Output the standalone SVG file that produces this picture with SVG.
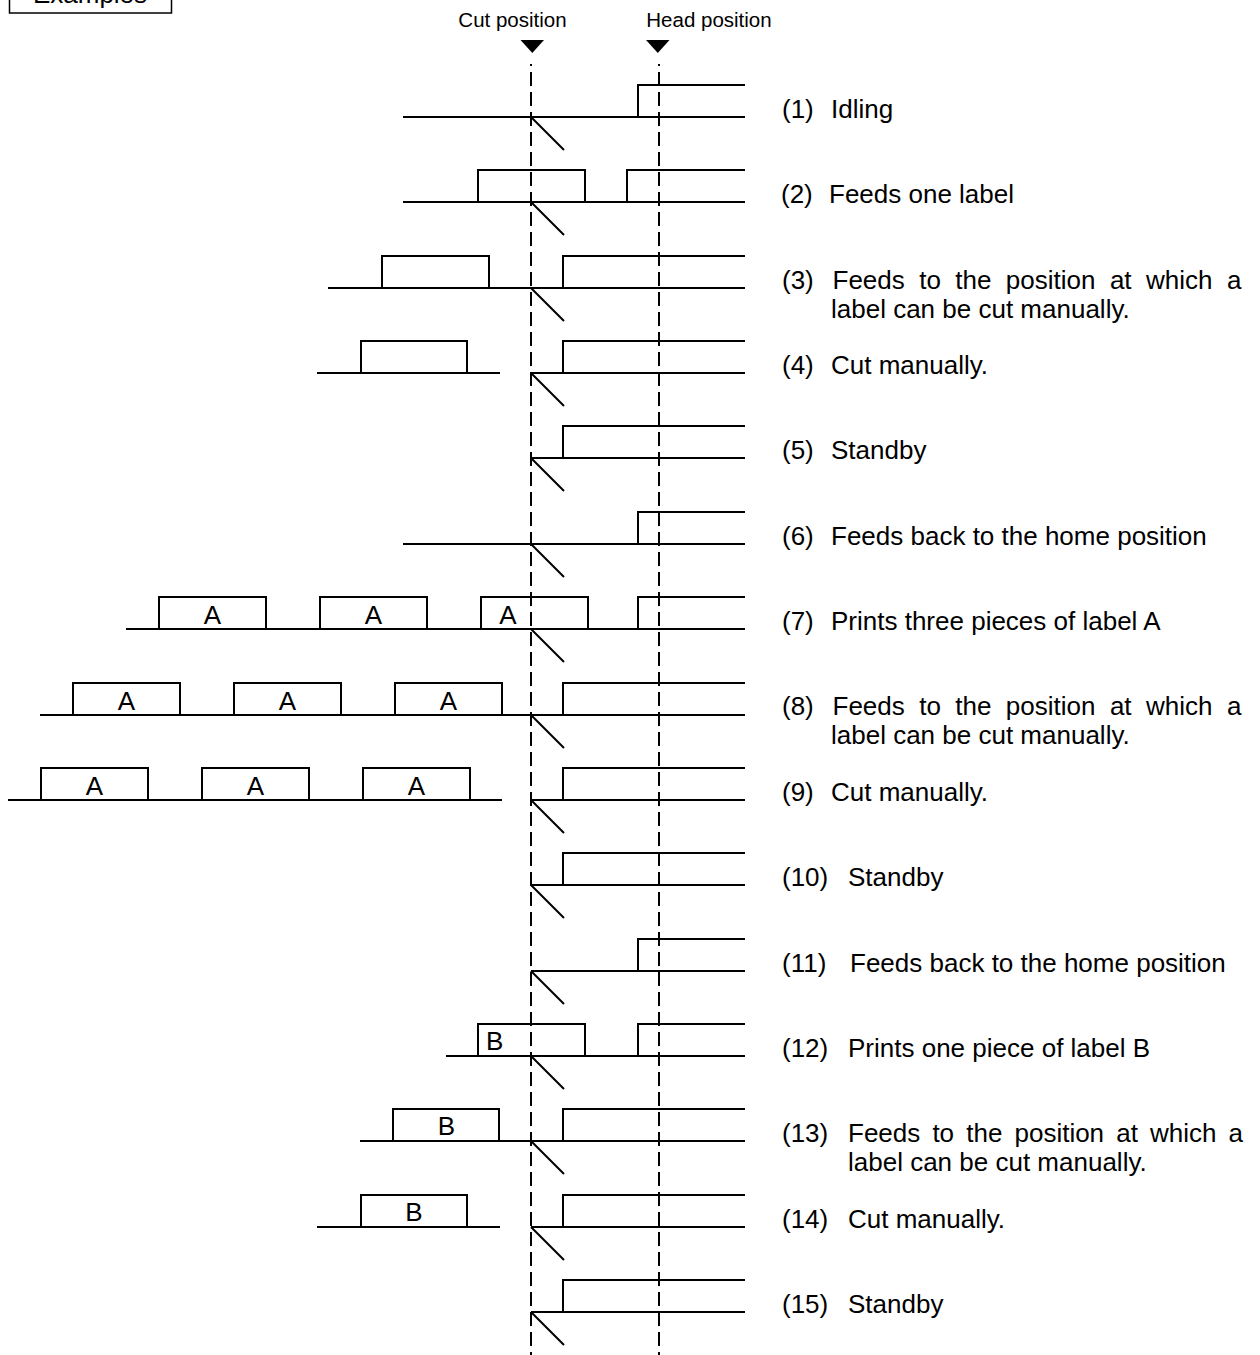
<svg xmlns="http://www.w3.org/2000/svg" width="1260" height="1355" viewBox="0 0 1260 1355">
<style>
.w{fill:none;stroke:#000;stroke-width:2}
.d{fill:none;stroke:#000;stroke-width:2;stroke-dasharray:14 6;stroke-dashoffset:12}
.t{font-family:"Liberation Sans",Arial,sans-serif;font-size:26px;fill:#000}
.h{font-family:"Liberation Sans",Arial,sans-serif;font-size:20.5px;fill:#000}
.c{text-anchor:middle}
.j{word-spacing:7.2px}
</style>
<g id="examples">
<rect x="9.5" y="-20" width="162" height="33" fill="#fff" stroke="#000" stroke-width="1.5"/>
<text class="t c" x="90" y="3">Examples</text>
</g>
<g id="markers">
<text class="h c" x="512.5" y="27">Cut position</text>
<text class="h c" x="709" y="27">Head position</text>
<polygon points="520.5,40 544,40 532.3,53" fill="#000"/>
<polygon points="646,40 669.5,40 657.8,53" fill="#000"/>
</g>
<g id="connectors">
<line class="d" x1="531" y1="64" x2="531" y2="1355"/>
<line class="d" x1="659" y1="64" x2="659" y2="1355"/>
</g>
<g id="row1">
<path class="w" d="M403,117H745M638,117V85H745M531,117L564,150"/>
<text class="t" y="118"><tspan x="782">(1)</tspan><tspan x="831">Idling</tspan></text>
</g>
<g id="row2">
<path class="w" d="M403,202H745M478,202V170H585V202M627,202V170H745M531,202L564,235"/>
<text class="t" y="203"><tspan x="781">(2)</tspan><tspan x="829">Feeds one label</tspan></text>
</g>
<g id="row3">
<path class="w" d="M328,288H745M382,288V256H489V288M563,288V256H745M531,288L564,321"/>
<text class="t" y="289"><tspan x="782">(3)</tspan><tspan class="j" x="832.5">Feeds to the position at which a</tspan></text>
<text class="t" x="831" y="318">label can be cut manually.</text>
</g>
<g id="row4">
<path class="w" d="M317,373H500M361,373V341H467V373M531,373H745M563,373V341H745M531,373L564,406"/>
<text class="t" y="374"><tspan x="782">(4)</tspan><tspan x="831">Cut manually.</tspan></text>
</g>
<g id="row5">
<path class="w" d="M531,458H745M563,458V426H745M531,458L564,491"/>
<text class="t" y="459"><tspan x="782">(5)</tspan><tspan x="831">Standby</tspan></text>
</g>
<g id="row6">
<path class="w" d="M403,544H745M638,544V512H745M531,544L564,577"/>
<text class="t" y="545"><tspan x="782">(6)</tspan><tspan x="831">Feeds back to the home position</tspan></text>
</g>
<g id="row7">
<path class="w" d="M126,629H745M159,629V597H266V629M320,629V597H427V629M481,629V597H588V629M638,629V597H745M531,629L564,662"/>
<text class="t c" x="212.5" y="624">A</text>
<text class="t c" x="373.5" y="624">A</text>
<text class="t c" x="508" y="624">A</text>
<text class="t" y="630"><tspan x="782">(7)</tspan><tspan x="831">Prints three pieces of label A</tspan></text>
</g>
<g id="row8">
<path class="w" d="M40,715H745M73,715V683H180V715M234,715V683H341V715M395,715V683H502V715M563,715V683H745M531,715L564,748"/>
<text class="t c" x="126.5" y="710">A</text>
<text class="t c" x="287.5" y="710">A</text>
<text class="t c" x="448.5" y="710">A</text>
<text class="t" y="715"><tspan x="782">(8)</tspan><tspan class="j" x="832.5">Feeds to the position at which a</tspan></text>
<text class="t" x="831" y="744">label can be cut manually.</text>
</g>
<g id="row9">
<path class="w" d="M8,800H502M41,800V768H148V800M202,800V768H309V800M363,800V768H470V800M531,800H745M563,800V768H745M531,800L564,833"/>
<text class="t c" x="94.5" y="795">A</text>
<text class="t c" x="255.5" y="795">A</text>
<text class="t c" x="416.5" y="795">A</text>
<text class="t" y="801"><tspan x="782">(9)</tspan><tspan x="831">Cut manually.</tspan></text>
</g>
<g id="row10">
<path class="w" d="M531,885H745M563,885V853H745M531,885L564,918"/>
<text class="t" y="886"><tspan x="782">(10)</tspan><tspan x="848">Standby</tspan></text>
</g>
<g id="row11">
<path class="w" d="M531,971H745M638,971V939H745M531,971L564,1004"/>
<text class="t" y="972"><tspan x="782">(11)</tspan><tspan x="850">Feeds back to the home position</tspan></text>
</g>
<g id="row12">
<path class="w" d="M446,1056H745M478,1056V1024H585V1056M638,1056V1024H745M531,1056L564,1089"/>
<text class="t" x="486" y="1050">B</text>
<text class="t" y="1057"><tspan x="782">(12)</tspan><tspan x="848">Prints one piece of label B</tspan></text>
</g>
<g id="row13">
<path class="w" d="M360,1141H745M393,1141V1109H499V1141M563,1141V1109H745M531,1141L564,1174"/>
<text class="t c" x="446.5" y="1135">B</text>
<text class="t" y="1142"><tspan x="782">(13)</tspan><tspan x="848" style="word-spacing:4.9px">Feeds to the position at which a</tspan></text>
<text class="t" x="848" y="1171">label can be cut manually.</text>
</g>
<g id="row14">
<path class="w" d="M317,1227H500M361,1227V1195H467V1227M531,1227H745M563,1227V1195H745M531,1227L564,1260"/>
<text class="t c" x="414" y="1221">B</text>
<text class="t" y="1228"><tspan x="782">(14)</tspan><tspan x="848">Cut manually.</tspan></text>
</g>
<g id="row15">
<path class="w" d="M531,1312H745M563,1312V1280H745M531,1312L564,1345"/>
<text class="t" y="1313"><tspan x="782">(15)</tspan><tspan x="848">Standby</tspan></text>
</g>
</svg>
